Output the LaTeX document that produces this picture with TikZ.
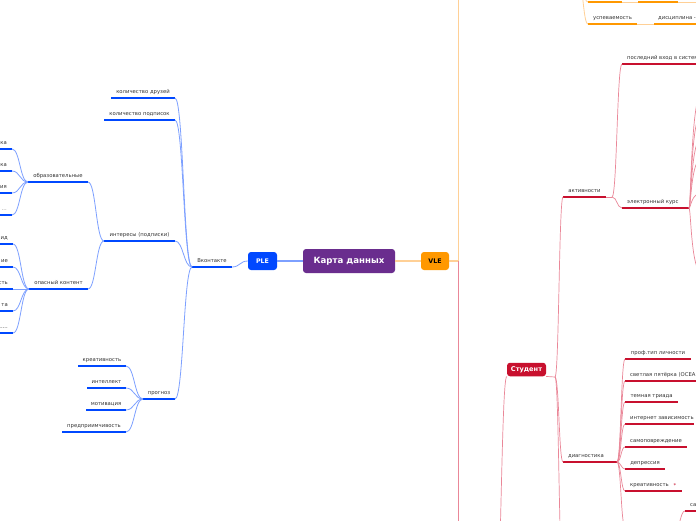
\documentclass[tikz,border=0pt]{standalone}
\usepackage{fontspec}
\setmainfont{DejaVu Sans}
\usetikzlibrary{calc}
\definecolor{cpurple}{RGB}{106,45,142}
\definecolor{cblue}{RGB}{0,72,255}
\definecolor{cblueL}{RGB}{125,160,255}
\definecolor{corange}{RGB}{255,152,0}
\definecolor{corangeL}{RGB}{255,208,150}
\definecolor{cred}{RGB}{200,16,46}
\definecolor{credL}{RGB}{234,135,152}
\definecolor{ctxt}{RGB}{51,51,51}
\newcommand\tf{\fontsize{5.3}{6.4}\selectfont}
\tikzset{
  lbl/.style={font=\tf, text=ctxt, inner sep=0pt, anchor=base},
  lblw/.style={lbl, anchor=base west},
  lble/.style={lbl, anchor=base east},
  bu/.style={draw=cblue, line width=2.8pt},
  ou/.style={draw=corange, line width=2.8pt},
  ru/.style={draw=cred, line width=2.8pt},
  bconn/.style={draw=cblueL, line width=0.8pt},
  oconn/.style={draw=corangeL, line width=0.8pt},
  rconn/.style={draw=credL, line width=0.7pt},
  rdark/.style={draw=cred, line width=1.4pt},
  topic/.style={rounded corners=3pt, inner sep=0pt, font=\bfseries},
}
% underline with named end coordinates
\newcommand\ul[5]{\coordinate (#2-l) at (#3,#5); \coordinate (#2-r) at (#4,#5); \draw[#1] (#2-l) -- (#2-r);}
% curved connector
\newcommand\cn[3][bconn]{\draw[#1] let \p1=(#2), \p2=(#3) in (#2) .. controls ({(\x1+\x2)/2},\y1) and ({(\x1+\x2)/2},\y2) .. (#3);}
\begin{document}
\begin{tikzpicture}[x=1pt,y=-1pt]
\useasboundingbox (0,0) rectangle (696,520);
\fill[white] (0,0) rectangle (696,520);

% central topics
\node[topic, fill=cpurple, text=white, minimum width=92pt, minimum height=24pt, font=\fontsize{8.6}{10}\selectfont\bfseries] (map) at (349,261) {Карта данных};
\node[topic, fill=cblue, text=white, minimum width=29pt, minimum height=18pt, font=\fontsize{6.3}{7}\selectfont\bfseries] (ple) at (262.5,261) {PLE};
\node[topic, fill=corange, text=black, minimum width=28pt, minimum height=18pt, font=\fontsize{6.3}{7}\selectfont\bfseries] (vle) at (435,261) {VLE};
\node[topic, fill=cred, text=white, minimum width=39pt, minimum height=13.5pt, font=\fontsize{6.6}{7}\selectfont\bfseries] (stud) at (526.5,369.5) {Студент};

\draw[draw=cblueL, line width=1.3pt] (map.west) -- (ple.east);
\draw[draw=corangeL, line width=1.3pt] (map.east) -- (vle.west);

% ---------------- PLE side ----------------
\ul{bu}{vk}{192}{232}{267}
\node[lbl] (vkt) at (212,262) {Вконтакте};
\cn{ple.west}{vk-r}

\ul{bu}{fr}{111}{175}{98}
\node[lbl] (frt) at (143,93) {количество друзей};
\ul{bu}{sb}{104}{175}{120}
\node[lbl] (sbt) at (139.5,115) {количество подписок};
\ul{bu}{in}{104}{175}{241}
\node[lbl] (int) at (139.5,236) {интересы (подписки)};
\ul{bu}{pg}{143}{175}{399}
\node[lbl] (pgt) at (159,394) {прогноз};
\cn{fr-r}{vk-l}
\cn{sb-r}{vk-l}
\cn{in-r}{vk-l}
\cn{pg-r}{vk-l}

\ul{bu}{ed}{28}{88}{182}
\node[lbl] (edt) at (58,177) {образовательные};
\ul{bu}{dg}{29}{88}{289}
\node[lbl] (dgt) at (58.5,284) {опасный контент};
\cn{ed-r}{in-l}
\cn{dg-r}{in-l}

\ul{bu}{ea}{-40}{12}{149} \node[lble] (eat) at (7,144) {ка};
\ul{bu}{eb}{-40}{12}{171} \node[lble] (ebt) at (7,166) {ка};
\ul{bu}{ec}{-40}{12}{193} \node[lble] (ect) at (7,188) {ия};
\ul{bu}{ee}{-40}{12}{215} \node[lble, text=ctxt!60] (eet) at (7,210) {...};
\cn{ea-r}{ed-l}
\cn{eb-r}{ed-l}
\cn{ec-r}{ed-l}
\cn{ee-r}{ed-l}

\ul{bu}{da}{-40}{13}{244} \node[lble] (dat) at (8,239) {ид};
\ul{bu}{db}{-40}{13}{267} \node[lble] (dbt) at (8,262) {ие};
\ul{bu}{dc}{-40}{13}{289} \node[lble] (dct) at (8,284) {сть};
\ul{bu}{dd}{-40}{13}{311} \node[lble] (ddt) at (8,306) {та};
\ul{bu}{de}{-40}{13}{333} \node[lble] (det) at (8,328) {.....};
\cn{da-r}{dg-l}
\cn{db-r}{dg-l}
\cn{dc-r}{dg-l}
\cn{dd-r}{dg-l}
\cn{de-r}{dg-l}

\ul{bu}{pa}{78}{126}{366} \node[lbl] (pat) at (102,361) {креативность};
\ul{bu}{pb}{87}{126}{388} \node[lbl] (pbt) at (106.5,383) {интеллект};
\ul{bu}{pc}{86}{126}{410} \node[lbl] (pct) at (106,405) {мотивация};
\ul{bu}{pd}{62}{126}{432} \node[lbl] (pdt) at (94,427) {предприимчивость};
\cn{pa-r}{pg-l}
\cn{pb-r}{pg-l}
\cn{pc-r}{pg-l}
\cn{pd-r}{pg-l}

% ---------------- VLE side ----------------
\coordinate (vj) at (458,261);
\coordinate (vtop) at (458,-5);
\coordinate (vbot) at (458,525);
\draw[draw=corangeL, line width=1.1pt] (vle.east) -- (vj);
\draw[oconn] (vj) -- (vtop);
\draw[rconn, line width=0.9pt] (vj) -- (vbot);

% top orange branch
\coordinate (oj) at (578,-22);
\ul{ou}{ta}{588}{622}{2}
\ul{ou}{tb}{638}{678}{2}
\coordinate (tend) at (700,2);
\draw[oconn] (ta-r) -- (tb-l);
\draw[oconn] (tb-r) -- (tend);
\ul{ou}{us}{588}{637}{24}
\node[lbl] (ust) at (612.5,19) {успеваемость};
\ul{ou}{ds}{654}{710}{24}
\node[lblw] (dst) at (658,19) {дисциплина -};
\draw[oconn] (us-r) -- (ds-l);
\cn[oconn]{oj}{ta-l}
\cn[oconn]{oj}{us-l}

% Student
\coordinate (sj) at (555,377);
\coordinate (sdown) at (563,580);
\coordinate (sleft) at (494,640);
\draw[rconn] (stud.south east) -- (sj);
\draw[rconn] let \p1=(stud.south west), \p2=(sleft) in (\p1) .. controls (501,376) and (501,\y2) .. (sleft);

\ul{ru}{ak}{563}{606}{197}
\node[lbl] (akt) at (584.5,192) {активности};
\ul{ru}{dx}{563}{609}{462}
\node[lbl] (dxt) at (586,457) {диагностика};
\cn[rconn]{sj}{ak-l}
\cn[rconn]{sj}{dx-l}
\cn[rconn]{sj}{sdown}

% активности
\coordinate (aj) at (612,197);
\draw[rconn] (ak-r) -- (aj);
\ul{ru}{lv}{622}{710}{64}
\node[lblw] (lvt) at (627,59) {последний вход в систему};
\ul{ru}{ek}{622}{682}{208}
\node[lblw] (ekt) at (627,203) {электронный курс};
\cn[rconn]{aj}{lv-l}
\cn[rconn]{aj}{ek-l}
\coordinate (ej) at (689,208);
\draw[rdark] (ek-r) -- (ej);
\foreach \yy [count=\i] in {93,113,137,158,193,273}{
  \coordinate (ec\i) at (702,\yy);
  \draw[rconn] (ej) .. controls (691,208) and (691,\yy) .. (ec\i);
}

% диагностика
\coordinate (dj) at (617,462);
\draw[rdark] (dx-r) -- (dj);
\ul{ru}{qa}{625}{691}{359} \node[lbl] (qat) at (658,354) {проф.тип личности};
\ul{ru}{qb}{625}{710}{381} \node[lblw] (qbt) at (630,376) {светлая пятёрка (OCEAN)};
\ul{ru}{qc}{625}{678}{402} \node[lbl] (qct) at (651.5,397) {темная триада};
\ul{ru}{qd}{625}{694}{424} \node[lblw] (qdt) at (630,419) {интернет зависимость};
\ul{ru}{qe}{625}{687}{447} \node[lbl] (qet) at (656,442) {самоповреждение};
\ul{ru}{qf}{625}{665}{469} \node[lbl] (qft) at (645,464) {депрессия};
\ul{ru}{qg}{625}{682}{491} \node[lblw] (qgt) at (630,486) {креативность};
\node[font=\tf, text=cred, inner sep=0pt, anchor=base] (qgs) at (675,487) {*};
\ul{ru}{qh}{625}{676}{527}
\foreach \q in {qa,qb,qc,qd,qe,qf,qg,qh}{\cn[rconn]{dj}{\q-l}}
\ul{ru}{qi}{685}{710}{511} \node[lblw] (qit) at (690,506) {са};
\cn[rconn]{qh-r}{qi-l}
\end{tikzpicture}
\end{document}
